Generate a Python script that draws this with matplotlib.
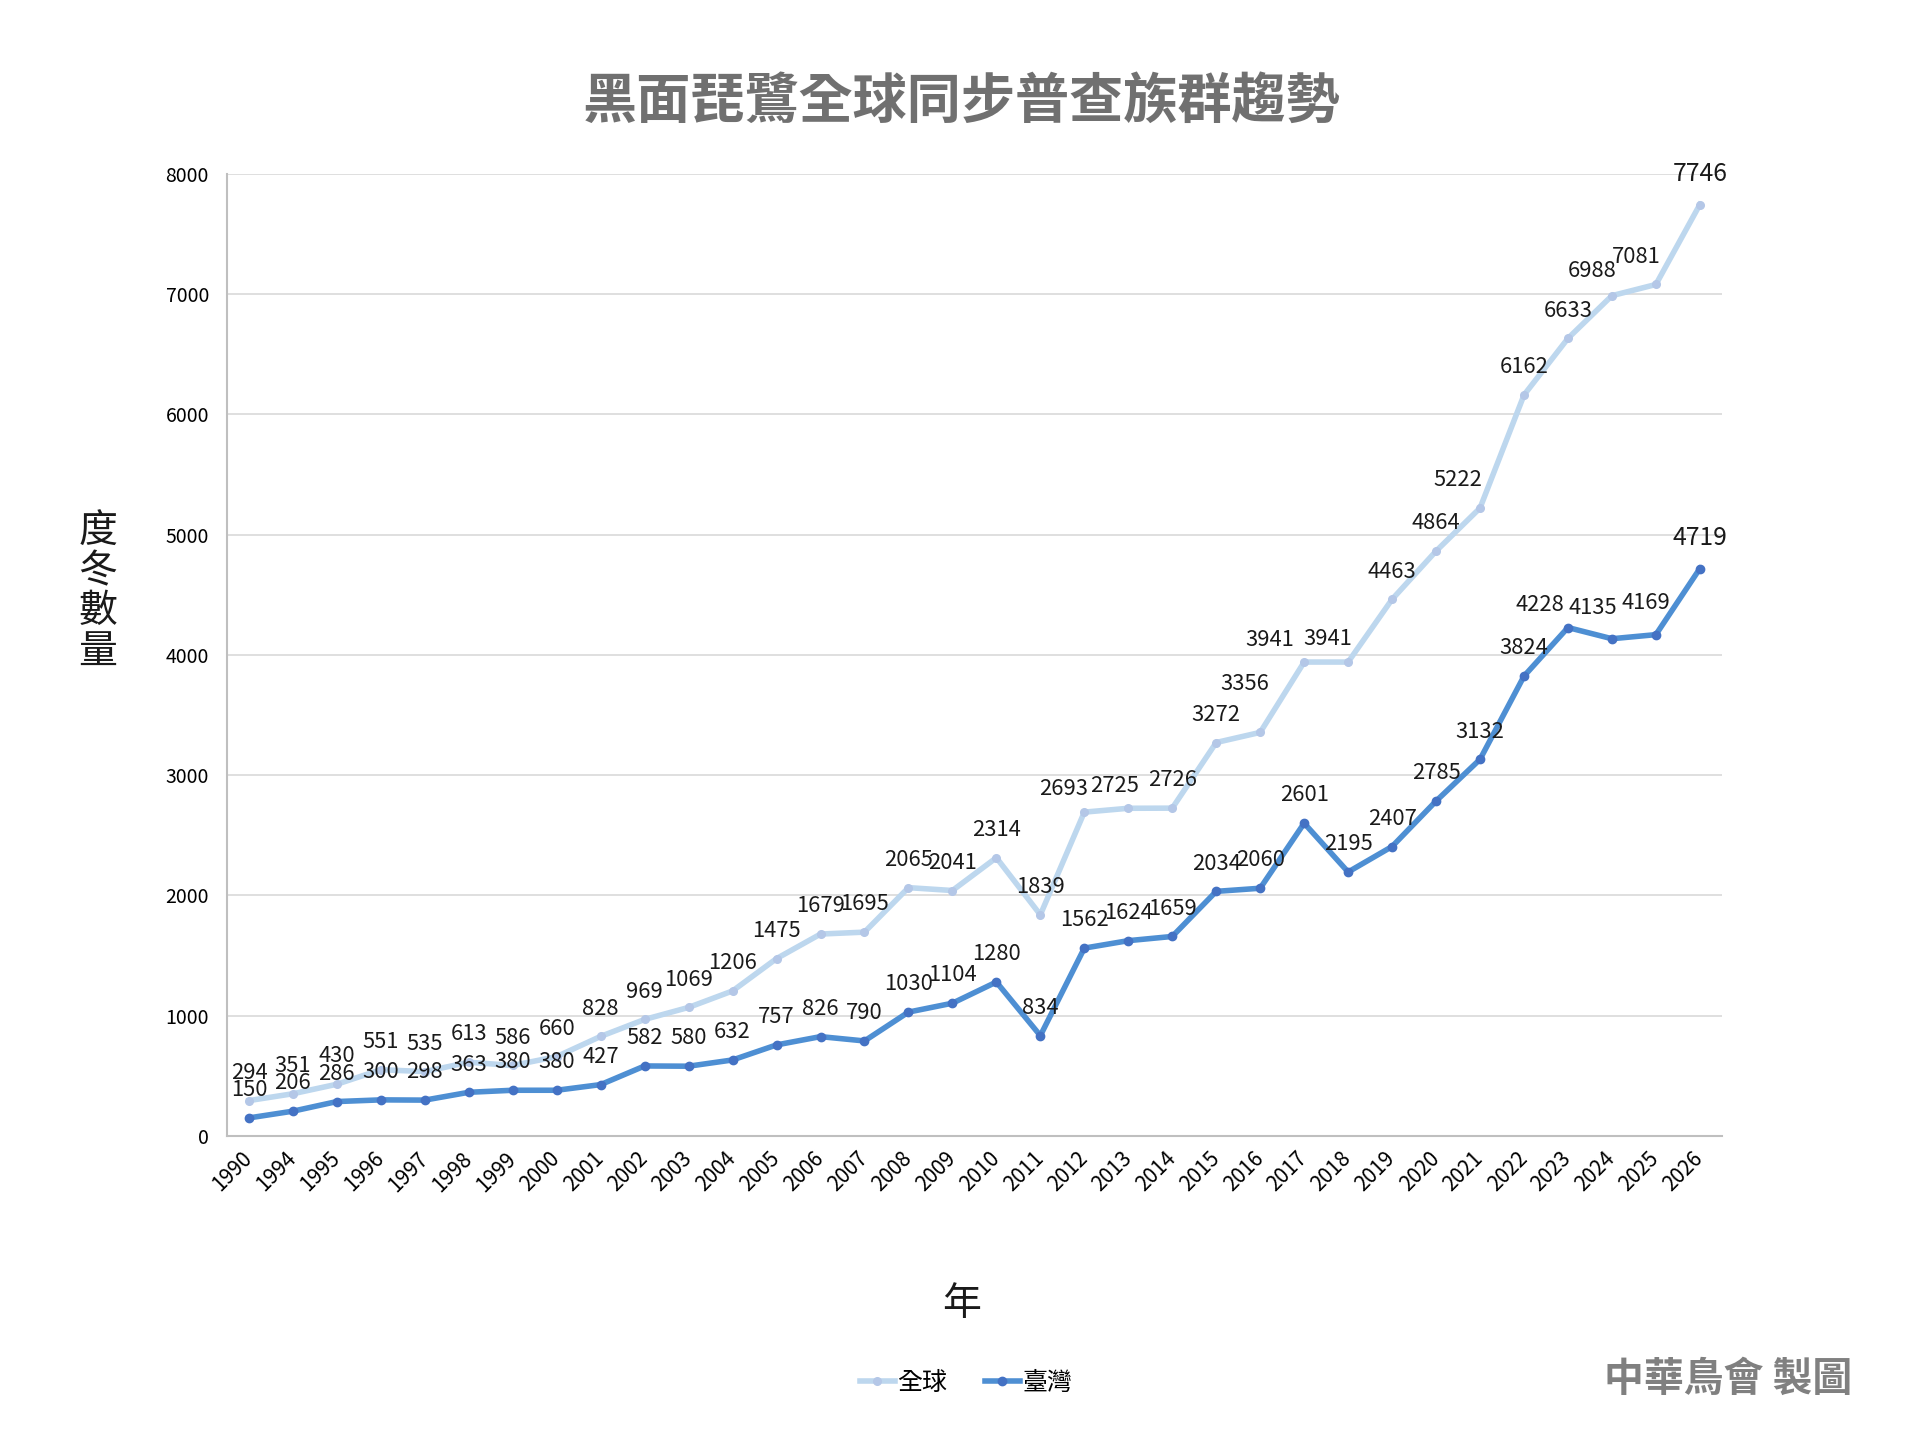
import matplotlib
matplotlib.use("Agg")
import matplotlib.pyplot as plt

plt.rcParams['font.family'] = ['Noto Sans CJK TC', 'DejaVu Sans']

# 資料
years = ['1990', '1994', '1995', '1996', '1997', '1998', '1999', '2000',
         '2001', '2002', '2003', '2004', '2005', '2006', '2007', '2008',
         '2009', '2010', '2011', '2012', '2013', '2014', '2015', '2016',
         '2017', '2018', '2019', '2020', '2021', '2022', '2023', '2024',
         '2025', '2026']
global_count = [294, 351, 430, 551, 535, 613, 586, 660, 828, 969, 1069, 1206,
                1475, 1679, 1695, 2065, 2041, 2314, 1839, 2693, 2725, 2726,
                3272, 3356, 3941, 3941, 4463, 4864, 5222, 6162, 6633, 6988,
                7081, 7746]
taiwan_count = [150, 206, 286, 300, 298, 363, 380, 380, 427, 582, 580, 632,
                757, 826, 790, 1030, 1104, 1280, 834, 1562, 1624, 1659, 2034,
                2060, 2601, 2195, 2407, 2785, 3132, 3824, 4228, 4135, 4169,
                4719]
y_ticks = [0, 1000, 2000, 3000, 4000, 5000, 6000, 7000, 8000]

# 標籤位移 (點): 預設在資料點上方，部分標籤手動挪動過
global_shift = {19: (-15, 16.5), 20: (-10, 16), 23: (-11, 34.5),
                24: (-25, 16), 25: (-15, 16.5), 28: (-16, 20),
                31: (-14, 18), 32: (-14, 20), 33: (0, 22)}
taiwan_shift = {30: (-20, 16.5), 31: (-14, 22), 32: (-7, 23), 33: (0, 22)}

fig = plt.figure(figsize=(19.2, 14.39), dpi=100)
ax = fig.add_axes([0.1182, 0.2106, 0.7786, 0.6685])

x = range(len(years))
ax.plot(x, global_count, color='#BDD7EE', linewidth=4, marker='o',
        markersize=5.5, markerfacecolor='#B4C7E7', markeredgecolor='#B4C7E7',
        label='全球', zorder=3)
ax.plot(x, taiwan_count, color='#4E8FD3', linewidth=4, marker='o',
        markersize=6, markerfacecolor='#4472C4', markeredgecolor='#4472C4',
        label='臺灣', zorder=4)

last = len(years) - 1
for series, shift in ((global_count, global_shift),
                      (taiwan_count, taiwan_shift)):
    for i, v in enumerate(series):
        dx, dy = shift.get(i, (0, 20))
        ax.annotate(str(v), (i, v), xytext=(dx, dy),
                    textcoords='offset points', ha='center', va='center',
                    fontsize=17.8 if i == last else 15.8, color='#1a1a1a',
                    zorder=5)

ax.set_xlim(-0.5, len(years) - 0.5)
ax.set_ylim(0, 8000)
ax.set_yticks(y_ticks)
ax.set_xticks(list(x))
ax.set_xticklabels(years, rotation=45, ha='right', va='center',
                   rotation_mode='anchor', fontsize=15)
ax.tick_params(axis='y', labelsize=14, length=0, pad=13)
ax.tick_params(axis='x', length=0, pad=14)

ax.grid(axis='y', color='#D9D9D9', linewidth=1.2)
ax.set_axisbelow(True)
for side in ('top', 'right'):
    ax.spines[side].set_visible(False)
for side in ('left', 'bottom'):
    ax.spines[side].set_color('#BFBFBF')
    ax.spines[side].set_linewidth(1.5)

fig.text(0.501, 0.929, '黑面琵鷺全球同步普查族群趨勢', ha='center', va='center',
         fontsize=39, fontweight='bold', color='#707070')
fig.text(0.051, 0.589, '度\n冬\n數\n量', ha='center', va='center',
         fontsize=28, linespacing=1.0, color='#1a1a1a')
fig.text(0.501, 0.094, '年', ha='center', va='center', fontsize=28,
         color='#1a1a1a')
fig.text(0.9645, 0.0415, '中華鳥會 製圖', ha='right', va='center',
         fontsize=28.7, fontweight='bold', color='#808080')

fig.legend(loc='center', bbox_to_anchor=(0.503, 0.039), ncol=2, frameon=False,
           fontsize=18, handlelength=1.4, handletextpad=0.1, columnspacing=1.5)

plt.savefig('out.png', dpi=100, facecolor='white')
